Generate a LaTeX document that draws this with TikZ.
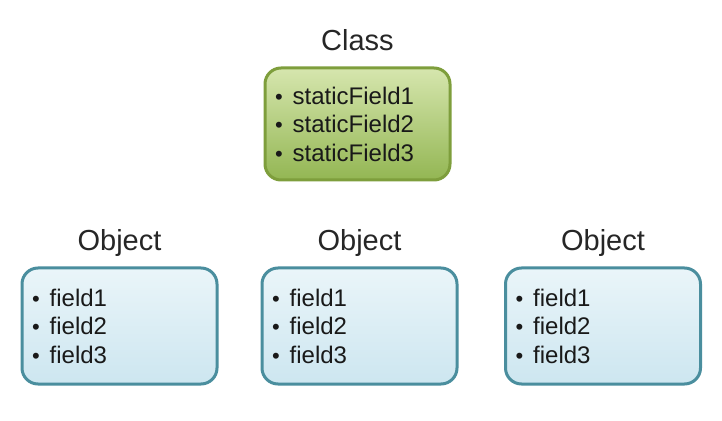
\documentclass[tikz,border=0pt]{standalone}
\usepackage{fontspec}
\setmainfont{Liberation Sans}
\usetikzlibrary{positioning}
\definecolor{clsborder}{HTML}{7E9E3C}
\definecolor{clstop}{HTML}{D6E6AE}
\definecolor{clsbottom}{HTML}{93B653}
\definecolor{objborder}{HTML}{4A8E9E}
\definecolor{objtop}{HTML}{EAF5F9}
\definecolor{objbottom}{HTML}{CDE6F0}
\newcommand{\fielditem}[1]{{\fontsize{22}{22}\selectfont\textbullet}\hspace{10pt}#1}
\tikzset{
  title/.style={font=\fontsize{29}{32}\selectfont, text=black!85, inner sep=0pt},
  fields/.style={rounded corners=16pt, line width=3pt, inner xsep=8pt,
    text width=175pt, align=left, text=black!90,
    font=\fontsize{24}{28.5}\selectfont},
  classbox/.style={fields, draw=clsborder, top color=clstop, bottom color=clsbottom,
    minimum width=185pt, minimum height=112pt, text width=165pt},
  objbox/.style={fields, draw=objborder, top color=objtop, bottom color=objbottom,
    minimum width=195pt, minimum height=116pt}
}
\begin{document}
\begin{tikzpicture}[x=1pt, y=1pt]
    \useasboundingbox (0, 0) rectangle (722, 420);

    % Class
    \node[classbox] (class) at (357.5, 296) {\fielditem{staticField1}\\\fielditem{staticField2}\\\fielditem{staticField3}};
    \node[title, above=16pt of class, anchor=base] (classlabel) {Class};

    % Objects
    \node[objbox] (obj1) at (119.5, 94) {\fielditem{field1}\\\fielditem{field2}\\\fielditem{field3}};
    \node[objbox] (obj2) at (359.5, 94) {\fielditem{field1}\\\fielditem{field2}\\\fielditem{field3}};
    \node[objbox] (obj3) at (603, 94) {\fielditem{field1}\\\fielditem{field2}\\\fielditem{field3}};
    \node[title, above=16pt of obj1, anchor=base] (obj1label) {Object};
    \node[title, above=16pt of obj2, anchor=base] (obj2label) {Object};
    \node[title, above=16pt of obj3, anchor=base] (obj3label) {Object};
\end{tikzpicture}
\end{document}
